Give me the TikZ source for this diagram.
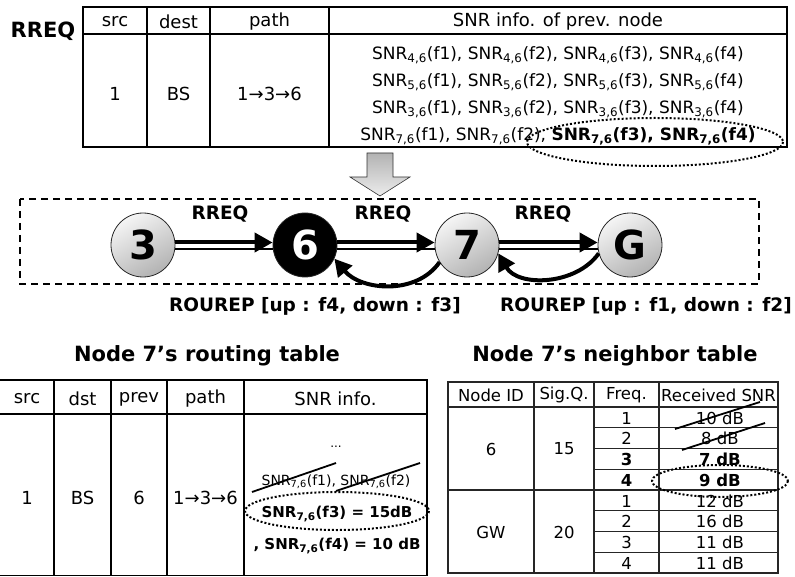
\documentclass[tikz,border=0pt]{standalone}
\usepackage{fontspec}
\setmainfont{DejaVu Sans}
\usetikzlibrary{arrows.meta,positioning,calc}

\begin{document}
\begin{tikzpicture}[x=1pt,y=-1pt,
  txt/.style={font=\fontsize{18}{20}\selectfont},
  snr/.style={font=\fontsize{17}{19}\selectfont},
  cell/.style={font=\fontsize{16.5}{18}\selectfont},
  ttl/.style={font=\fontsize{21}{24}\selectfont\bfseries},
  lbl/.style={font=\fontsize{18.5}{20}\selectfont\bfseries},
  grid/.style={line width=1.2pt},
  peer/.style={circle, draw=black!85, line width=0.8pt, minimum size=64pt, inner sep=0pt,
    font=\fontsize{40}{40}\selectfont\bfseries},
  gpeer/.style={peer, top color=gray!8, bottom color=gray!60, shading angle=30},
  fwd/.style={line width=4pt, -{Triangle[length=18pt,width=19pt]}},
  back/.style={line width=4pt, -{Triangle[length=17pt,width=18pt]}},
  oval/.style={line width=2pt, dash pattern=on 2pt off 2pt},
  strike/.style={line width=1.8pt}]
\useasboundingbox (0,0) rectangle (795,577);

% RREQ packet
\node[ttl] (rreq) at (43,31) {RREQ};
\draw[grid] (83,7) rectangle (787,147);
\draw[grid] (83,34) -- (787,34);
\foreach \x in {147,210,329} \draw[grid] (\x,7) -- (\x,147);
\node[txt] (h1) at (115,22) {src};
\node[txt] (h2) at (178.5,22) {dest};
\node[txt] (h3) at (269.5,22) {path};
\node[txt] (h4) at (558,22) {SNR info. of prev. node};
\node[txt] (v1) at (115,94) {1};
\node[txt] (v2) at (178.5,94) {BS};
\node[txt] (v3) at (269.5,94) {1→3→6};
\foreach \k/\y in {4/55,5/82,3/109}
  \node[snr] (s\k) at (558,\y) {SNR\textsubscript{\k,6}(f1), SNR\textsubscript{\k,6}(f2), SNR\textsubscript{\k,6}(f3), SNR\textsubscript{\k,6}(f4)};
\node[snr] (s7) at (558,136) {SNR\textsubscript{7,6}(f1), SNR\textsubscript{7,6}(f2), \textbf{SNR\textsubscript{7,6}(f3), SNR\textsubscript{7,6}(f4)}};
\draw[oval] (655,142) ellipse [x radius=128, y radius=24];

\shadedraw[top color=gray!60, bottom color=gray!15, draw=gray!40!black, line width=0.6pt]
  (367,153) -- (393,153) -- (393,177) -- (410,177) -- (380,196) -- (350,177) -- (367,177) -- cycle;

% path 3 -> 6 -> 7 -> G
\draw[line width=1.8pt, dash pattern=on 7pt off 5pt] (20,199) rectangle (759,284);
\node[gpeer] (n3) at (143,245) {3};
\node[peer, fill=black, text=white] (n6) at (305,245) {6};
\node[gpeer] (n7) at (467,245) {7};
\node[gpeer] (nG) at (630,245) {G};
\foreach \a/\b in {n3/n6, n6/n7, n7/nG} {
  \draw[fwd] ([yshift=2.5pt]\a.east) -- ([yshift=2.5pt]\b.west);
  \draw[line width=1.8pt] ([yshift=-4pt]\a.east) -- ([yshift=-4pt]\b.west);
}
\node[lbl] (q1) at (220,214) {RREQ};
\node[lbl] (q2) at (383,214) {RREQ};
\node[lbl] (q3) at (543,214) {RREQ};
\draw[back] (n7.212) to[out=235, in=-50] (n6.-25);
\draw[back] (nG.195) to[out=235, in=-60] (n7.-15);
\node[lbl] (rp1) at (315,306) {ROUREP [up : f4, down : f3]};
\node[lbl] (rp2) at (646,306) {ROUREP [up : f1, down : f2]};

% routing table of node 7
\node[ttl] (rtt) at (207,356) {Node 7’s routing table};
\draw[grid] (-2,380) rectangle (427,575.5);
\draw[grid] (-2,414) -- (427,414);
\foreach \x in {54,111,167,244} \draw[grid] (\x,380) -- (\x,575.5);
\foreach \t/\x [count=\i] in {src/27, dst/82.5, prev/139, path/205.5, SNR info./335.5}
  \node[txt] (rh\i) at (\x,399) {\t};
\foreach \t/\x [count=\i] in {1/27, BS/82.5, 6/139, 1→3→6/205.5}
  \node[txt] (rv\i) at (\x,498) {\t};
\node[font=\fontsize{12}{12}\selectfont] (dots) at (336,447) {...};
\node[font=\fontsize{14}{16}\selectfont] (old) at (336,482) {SNR\textsubscript{7,6}(f1), SNR\textsubscript{7,6}(f2)};
\draw[strike] (252,492) -- (336,463);
\draw[strike] (336,491) -- (420,463);
\node[font=\fontsize{15}{17}\selectfont\bfseries] (up) at (337,514) {SNR\textsubscript{7,6}(f3) = 15dB};
\node[font=\fontsize{15}{17}\selectfont\bfseries] (down) at (337,546) {, SNR\textsubscript{7,6}(f4) = 10 dB};
\draw[oval] (337,511) ellipse [x radius=92, y radius=19];

% neighbor table of node 7
\node[ttl] (ntt) at (615,356) {Node 7’s neighbor table};
\draw[grid, draw=black!85] (448,382) rectangle (778,573);
\draw[grid, draw=black!85] (448,407) -- (778,407);
\draw[grid, draw=black!85] (448,490) -- (778,490);
\foreach \x in {534,594,659} \draw[grid, draw=black!85] (\x,382) -- (\x,573);
\foreach \k in {1,2,3,5,6,7} \draw[grid, draw=black!85] (594,407+20.75*\k) -- (778,407+20.75*\k);
\node[cell] (nh1) at (491,395) {Node ID};
\node[cell] (nh2) at (564,395) {Sig.Q.};
\node[cell] (nh3) at (626.5,395) {Freq.};
\node[cell] (nh4) at (718.5,395) {Received SNR};
\node[cell] (nid1) at (491,449) {6};
\node[cell] (sq1) at (564,449) {15};
\node[cell] (nid2) at (491,532) {GW};
\node[cell] (sq2) at (564,532) {20};
\foreach \f/\r [count=\i from 0] in {1/10 dB, 2/8 dB, \textbf{3}/\textbf{7 dB}, \textbf{4}/\textbf{9 dB},
    1/12 dB, 2/16 dB, 3/11 dB, 4/11 dB} {
  \node[cell] (fq\i) at (626.5,418+20.75*\i) {\f};
  \node[cell] (rs\i) at (720,418+20.75*\i) {\r};
}
\draw[strike] (675,429) -- (760,402);
\draw[strike] (682,450) -- (765,423);
\draw[oval] (720,481) ellipse [x radius=68, y radius=16];
\end{tikzpicture}
\end{document}
